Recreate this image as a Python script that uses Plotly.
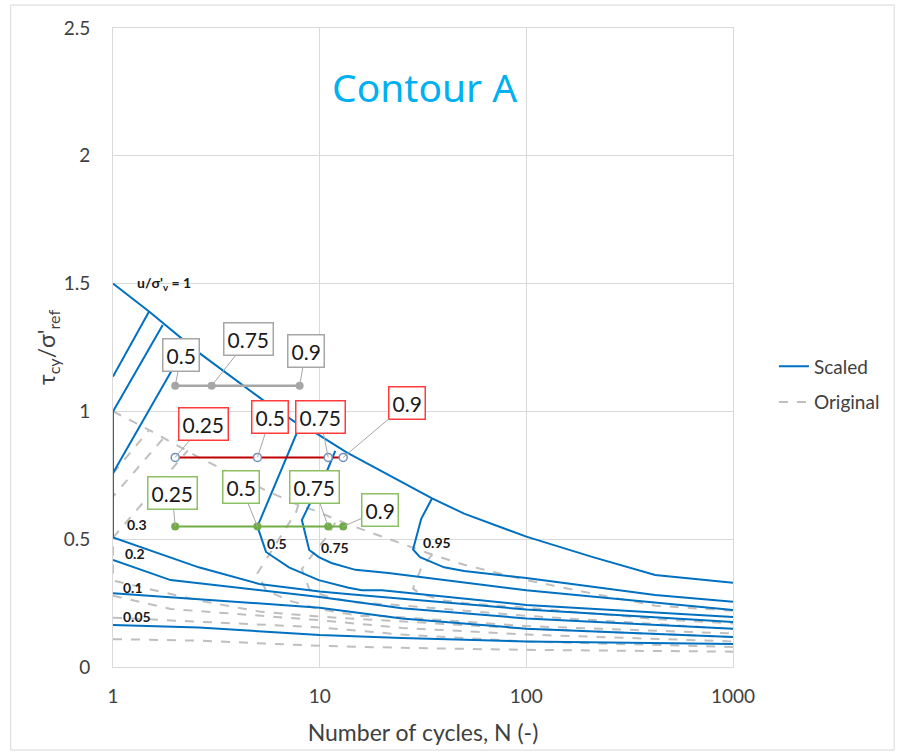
import math
import plotly.graph_objects as go

# ---- Scaled contours of u/sigma'_v (solid blue) ----
s_u100_n = [1, 1.5, 2.6, 5.3, 7.7, 9.6, 13.5, 20, 35, 50, 100, 210, 420, 1000]
s_u100_t = [1.5, 1.39, 1.23, 1.045, 0.955, 0.915, 0.84, 0.765, 0.66, 0.6, 0.51, 0.43, 0.36, 0.33]
s_u095_n = [35, 31, 28.3, 30.6, 40, 50, 100, 420, 1000]
s_u095_t = [0.66, 0.58, 0.46, 0.43, 0.39, 0.376, 0.348, 0.282, 0.255]
s_u075_n = [11.9, 10.8, 8.9, 8.2, 8.9, 9.9, 11.4, 14.9, 21.5, 100, 1000]
s_u075_t = [0.846, 0.763, 0.634, 0.575, 0.458, 0.43, 0.407, 0.38, 0.368, 0.30, 0.223]
s_u050_n = [7.9, 7.7, 5.0, 5.5, 7.1, 9.9, 13.8, 16, 20, 100, 1000]
s_u050_t = [0.955, 0.91, 0.55, 0.45, 0.39, 0.34, 0.31, 0.30, 0.30, 0.243, 0.196]
s_u030_n = [1.74, 1, 1, 2.6, 5.1, 10, 14, 50, 100, 1000]
s_u030_t = [1.338, 1.0, 0.507, 0.39, 0.325, 0.295, 0.285, 0.245, 0.225, 0.176]
s_u020_n = [1, 1.9, 10, 25, 100, 1000]
s_u020_t = [0.419, 0.34, 0.274, 0.23, 0.19, 0.15]
s_u010_n = [1, 2.6, 10, 25, 100, 1000]
s_u010_t = [0.289, 0.265, 0.232, 0.19, 0.15, 0.117]
s_u005_n = [1, 2.6, 10, 25, 100, 1000]
s_u005_t = [0.164, 0.155, 0.125, 0.113, 0.1, 0.09]
s_ua_n = [1, 1.49]
s_ua_t = [1.136, 1.389]
s_uc_n = [1, 1.92, 2.3]
s_uc_t = [0.759, 1.16, 1.27]

# ---- Original contours (dashed grey) ----
o_u100_n = [1, 1.5, 2.6, 5.3, 7.7, 9.6, 13.5, 20, 35, 50, 100, 210, 420, 1000]
o_u100_t = [1.0, 0.927, 0.82, 0.697, 0.637, 0.61, 0.56, 0.51, 0.44, 0.40, 0.34, 0.287, 0.24, 0.22]
o_u095_n = [35, 31, 28.3, 30.6, 40, 50, 100, 420, 1000]
o_u095_t = [0.44, 0.387, 0.307, 0.287, 0.26, 0.25, 0.232, 0.188, 0.17]
o_u075_n = [11.9, 10.8, 8.9, 8.2, 8.9, 9.9, 11.4, 14.9, 21.5, 100, 1000]
o_u075_t = [0.564, 0.509, 0.423, 0.383, 0.305, 0.287, 0.271, 0.253, 0.245, 0.2, 0.149]
o_u050_n = [7.9, 7.7, 5.0, 5.5, 7.1, 9.9, 13.8, 16, 20, 100, 1000]
o_u050_t = [0.637, 0.607, 0.367, 0.3, 0.26, 0.227, 0.207, 0.2, 0.2, 0.16, 0.131]
o_u030_n = [1.74, 1, 1, 2.6, 5.1, 10, 14, 50, 100, 1000]
o_u030_t = [0.892, 0.667, 0.338, 0.26, 0.217, 0.197, 0.19, 0.163, 0.15, 0.117]
o_u020_n = [1, 1.9, 10, 25, 100, 1000]
o_u020_t = [0.279, 0.227, 0.183, 0.153, 0.127, 0.1]
o_u010_n = [1, 2.6, 10, 25, 100, 1000]
o_u010_t = [0.193, 0.177, 0.155, 0.127, 0.1, 0.078]
o_u005_n = [1, 2.6, 10, 25, 100, 1000]
o_u005_t = [0.109, 0.103, 0.083, 0.075, 0.067, 0.06]
o_ua_n = [1, 1.49]
o_ua_t = [0.757, 0.926]
o_uc_n = [1, 1.92, 2.3]
o_uc_t = [0.506, 0.773, 0.847]

# ---- Stress paths with labels ----
grey_n = [2, 3, 8]
grey_t = [1.1, 1.1, 1.1]
grey_lbl = ["0.5", "0.75", "0.9"]
red_n = [2, 5, 11, 13]
red_t = [0.82, 0.82, 0.82, 0.82]
red_lbl = ["0.25", "0.5", "0.75", "0.9"]
green_n = [2, 5, 11, 13]
green_t = [0.55, 0.55, 0.55, 0.55]
green_lbl = ["0.25", "0.5", "0.75", "0.9"]

# contour value labels: (text, N, tau)
contour_lbl = ["u/σ'<sub>v</sub> = 1", "0.3", "0.2", "0.1", "0.05", "0.5", "0.75", "0.95"]
contour_lbl_n = [1.76, 1.31, 1.28, 1.25, 1.31, 6.2, 11.8, 36.9]
contour_lbl_t = [1.502, 0.556, 0.446, 0.313, 0.196, 0.485, 0.466, 0.489]

# axis ticks
x_ticks = [1, 10, 100, 1000]
x_ticktext = ["1", "10", "100", "1000"]
y_ticks = [0, 0.5, 1, 1.5, 2, 2.5]
y_ticktext = ["0", "0.5", "1", "1.5", "2", "2.5"]

BLUE = "#0070C0"
GREY_DASH = "#BFBFBF"
FONT = "Lato"

fig = go.Figure()

originals = [(o_u100_n, o_u100_t), (o_u095_n, o_u095_t), (o_u075_n, o_u075_t),
             (o_u050_n, o_u050_t), (o_u030_n, o_u030_t), (o_u020_n, o_u020_t),
             (o_u010_n, o_u010_t), (o_u005_n, o_u005_t), (o_ua_n, o_ua_t), (o_uc_n, o_uc_t)]
scaled = [(s_u100_n, s_u100_t), (s_u095_n, s_u095_t), (s_u075_n, s_u075_t),
          (s_u050_n, s_u050_t), (s_u030_n, s_u030_t), (s_u020_n, s_u020_t),
          (s_u010_n, s_u010_t), (s_u005_n, s_u005_t), (s_ua_n, s_ua_t), (s_uc_n, s_uc_t)]

for i, (n, t) in enumerate(originals):
    fig.add_trace(go.Scatter(x=n, y=t, mode="lines", name="Original",
                             legendgroup="orig", showlegend=(i == 0), legendrank=2,
                             line=dict(color=GREY_DASH, width=2, dash="dash"),
                             hoverinfo="skip"))
for i, (n, t) in enumerate(scaled):
    fig.add_trace(go.Scatter(x=n, y=t, mode="lines", name="Scaled",
                             legendgroup="scaled", showlegend=(i == 0), legendrank=1,
                             line=dict(color=BLUE, width=2), hoverinfo="skip"))

fig.add_trace(go.Scatter(x=grey_n, y=grey_t, mode="lines+markers", showlegend=False,
                         line=dict(color="#A6A6A6", width=2.5),
                         marker=dict(color="#A6A6A6", size=8)))
fig.add_trace(go.Scatter(x=red_n, y=red_t, mode="lines+markers", showlegend=False,
                         line=dict(color="#C00000", width=2),
                         marker=dict(color="white", size=8, line=dict(color="#6F8FC0", width=1.5))))
fig.add_trace(go.Scatter(x=green_n, y=green_t, mode="lines+markers", showlegend=False,
                         line=dict(color="#70AD47", width=2),
                         marker=dict(color="#70AD47", size=8)))

annotations = []

def boxed(n, t, text, color, ax, ay):
    annotations.append(dict(x=math.log10(n), y=t, xref="x", yref="y", text=text,
                            showarrow=True, arrowhead=0, arrowwidth=1, arrowcolor="#A6A6A6",
                            ax=ax, ay=ay, bgcolor="white", bordercolor=color, borderwidth=1.5,
                            borderpad=3, font=dict(family=FONT, size=21, color="#1a1a1a")))

grey_off = [(6, -31), (37, -47), (6, -35)]
red_off = [(28, -33), (13, -40), (-8, -40), (64, -54)]
green_off = [(-3, -33), (-16, -39), (-14, -39), (37, -16)]
for n, t, s, o in zip(grey_n, grey_t, grey_lbl, grey_off):
    boxed(n, t, s, "#A6A6A6", *o)
for n, t, s, o in zip(red_n, red_t, red_lbl, red_off):
    boxed(n, t, s, "#FF3B3B", *o)
for n, t, s, o in zip(green_n, green_t, green_lbl, green_off):
    boxed(n, t, s, "#8CC063", *o)

for s, n, t in zip(contour_lbl, contour_lbl_n, contour_lbl_t):
    annotations.append(dict(x=math.log10(n), y=t, xref="x", yref="y", text="<b>" + s + "</b>",
                            showarrow=False, font=dict(family=FONT, size=14, color="#1a1a1a")))

annotations.append(dict(x=math.log10(32.3), y=2.27, xref="x", yref="y", text="Contour A",
                        showarrow=False, font=dict(family="Noto Sans", size=39, color="#00B0F0")))

fig.update_layout(
    width=897, height=756,
    margin=dict(l=113, r=160, t=28, b=89),
    paper_bgcolor="white", plot_bgcolor="white",
    font=dict(family=FONT, size=19, color="#404040"),
    annotations=annotations,
    legend=dict(x=1.066, y=0.50, xanchor="left", yanchor="top",
                font=dict(family=FONT, size=19, color="#404040"),
                tracegroupgap=8, traceorder="grouped", bgcolor="rgba(0,0,0,0)"),
    shapes=[dict(type="rect", xref="paper", yref="paper", x0=-0.165, x1=1.26, y0=-0.13, y1=1.036,
                 line=dict(color="#D9D9D9", width=1), layer="below")],
)
fig.update_xaxes(type="log", range=[0, 3], tickvals=x_ticks, ticktext=x_ticktext,
                 showgrid=True, gridcolor="#D9D9D9", gridwidth=1, showline=True,
                 linecolor="#D9D9D9", mirror=True, ticks="", zeroline=False, automargin=False,
                 ticklabelstandoff=12,
                 title=dict(text="Number of cycles, N (-)", standoff=19),
                 tickfont=dict(size=19, color="#404040"))
fig.update_yaxes(range=[0, 2.5], tickvals=y_ticks, ticktext=y_ticktext,
                 showgrid=True, gridcolor="#D9D9D9", gridwidth=1, showline=True,
                 linecolor="#D9D9D9", mirror=True, ticks="", zeroline=False, automargin=False,
                 ticklabelstandoff=18,
                 title=dict(text="τ<sub>cy</sub>/σ'<sub>ref</sub>", standoff=1),
                 tickfont=dict(size=19, color="#404040"))

fig.write_html("out.html")
